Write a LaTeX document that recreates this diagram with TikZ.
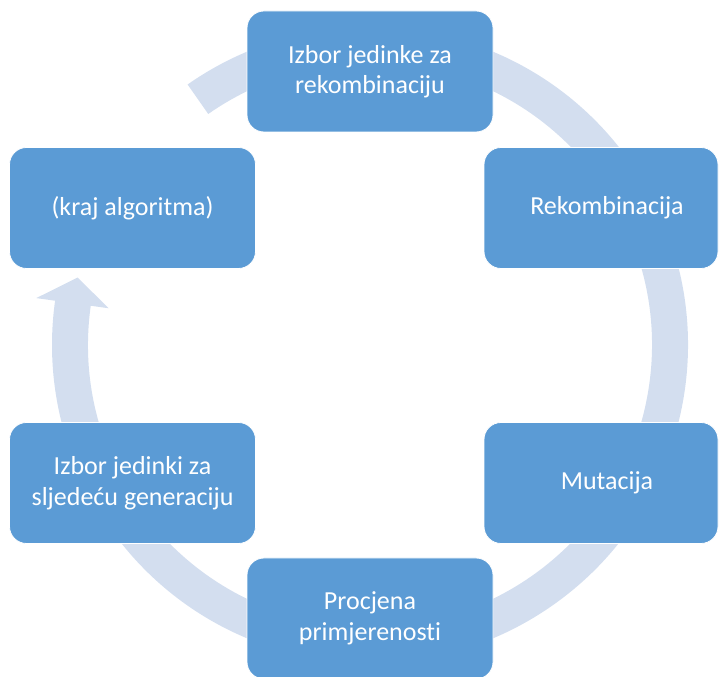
\documentclass[tikz,border=0pt]{standalone}
\usepackage{fontspec}
\setmainfont{Carlito}[Ligatures={NoCommon,NoRare,NoContextual}]
\definecolor{boxblue}{RGB}{91,155,213}
\definecolor{ringblue}{RGB}{211,222,239}
\begin{document}
\begin{tikzpicture}[x=1pt,y=1pt,
  box/.style={draw=white, line width=0.8pt, fill=boxblue, rounded corners=17pt,
    minimum width=246pt, minimum height=121pt, text=white, align=center,
    font=\fontsize{26}{30.5}\selectfont, inner sep=0pt},
  ring/.style={fill=ringblue}]
\useasboundingbox (0,0) rectangle (720,677);
\clip (0,0) rectangle (720,677);
% ring with arrow head
\begin{scope}[shift={(370,332)}]
\coordinate (rs) at (125:318);
\fill[ring] (rs) arc[start angle=125, end angle=-188, radius=318]
  -- (-188:337) -- (-193:300) -- (-188:264) -- (-188:282)
  arc[start angle=-188, end angle=125, radius=282] -- cycle;
\end{scope}
% boxes
\node[box] (sel)  at (370,605.5) {Izbor jedinke za\\rekombinaciju};
\node[box, minimum width=234pt] (rek) at (601,469) {\hspace*{12pt}Rekombinacija};
\node[box, minimum width=234pt] (mut) at (601,194) {\hspace*{12pt}Mutacija};
\node[box] (proc) at (370,58.5) {Procjena\\primjerenosti};
\node[box] (next) at (132.5,194) {Izbor jedinki za\\sljedeću generaciju};
\node[box] (kraj) at (132.5,469) {(kraj algoritma)};
\end{tikzpicture}
\end{document}
